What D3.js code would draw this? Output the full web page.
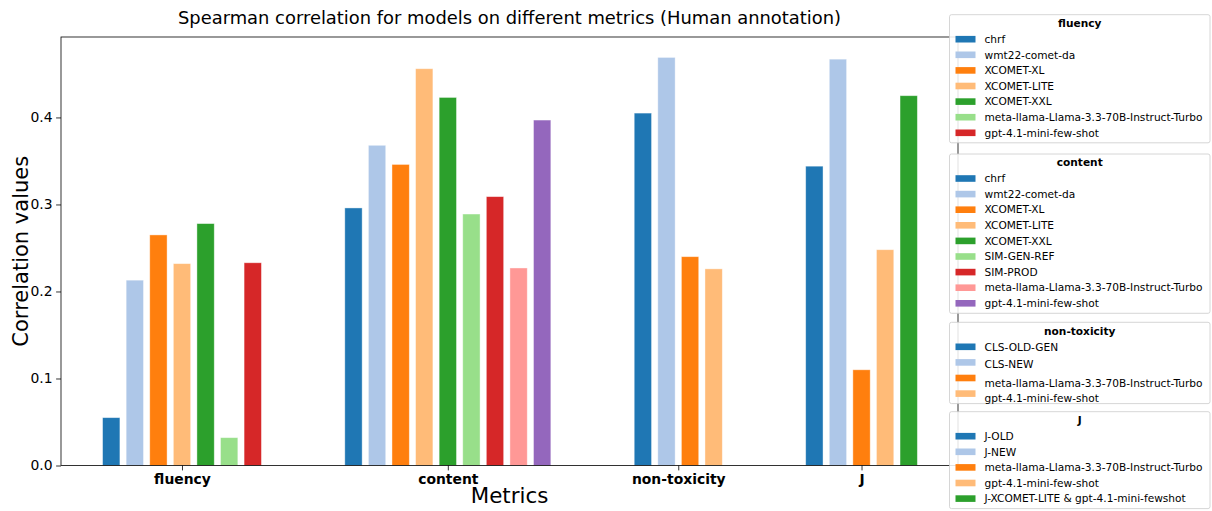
<!DOCTYPE html>
<html>
<head>
<meta charset="utf-8">
<script src="https://cdn.jsdelivr.net/npm/d3@7/dist/d3.min.js"></script>
<style>
  html, body { margin: 0; padding: 0; background: #fff; }
  svg { display: block; font-family: "DejaVu Sans", sans-serif; }
</style>
</head>
<body>
<svg id="chart" width="1212" height="511"></svg>
<script>
// ---------------- DATA ----------------
const categories = ["fluency", "content", "non-toxicity", "J"];

const fluencyModels = ["chrf", "wmt22-comet-da", "XCOMET-XL", "XCOMET-LITE", "XCOMET-XXL",
  "meta-llama-Llama-3.3-70B-Instruct-Turbo", "gpt-4.1-mini-few-shot"];
const fluencyValues = [0.055, 0.213, 0.265, 0.232, 0.278, 0.032, 0.233];

const contentModels = ["chrf", "wmt22-comet-da", "XCOMET-XL", "XCOMET-LITE", "XCOMET-XXL",
  "SIM-GEN-REF", "SIM-PROD", "meta-llama-Llama-3.3-70B-Instruct-Turbo", "gpt-4.1-mini-few-shot"];
const contentValues = [0.296, 0.368, 0.346, 0.456, 0.423, 0.289, 0.309, 0.227, 0.397];

const nonToxicityModels = ["CLS-OLD-GEN", "CLS-NEW", "meta-llama-Llama-3.3-70B-Instruct-Turbo",
  "gpt-4.1-mini-few-shot"];
const nonToxicityValues = [0.405, 0.469, 0.240, 0.226];

const jModels = ["J-OLD", "J-NEW", "meta-llama-Llama-3.3-70B-Instruct-Turbo", "gpt-4.1-mini-few-shot",
  "J-XCOMET-LITE & gpt-4.1-mini-fewshot"];
const jValues = [0.344, 0.467, 0.110, 0.248, 0.425];

const yTicks = [0.0, 0.1, 0.2, 0.3, 0.4];

const palette = ["#1f77b4", "#aec7e8", "#ff7f0e", "#ffbb78", "#2ca02c",
  "#98df8a", "#d62728", "#ff9896", "#9467bd"];

const titleText = "Spearman correlation for models on different metrics (Human annotation)";
const xLabelText = "Metrics";
const yLabelText = "Correlation values";

// ---------------- BUILD ----------------
const groups = [
  { name: categories[0], models: fluencyModels, values: fluencyValues },
  { name: categories[1], models: contentModels, values: contentValues },
  { name: categories[2], models: nonToxicityModels, values: nonToxicityValues },
  { name: categories[3], models: jModels, values: jValues }
];

// slot positions (in bar-step units)
const groupGap = 4.27;
let cursor = 0;
const bars = [];
groups.forEach((g, gi) => {
  if (gi > 0) cursor += groupGap;
  g.start = cursor;
  g.values.forEach((v, i) => {
    bars.push({ group: g.name, model: g.models[i], value: v, slot: cursor, color: palette[i] });
    if (i < g.values.length - 1) cursor += 1;
  });
  g.end = cursor;
  g.center = (g.start + g.end) / 2;
});

const svg = d3.select("#chart");
const L = 61, R = 958, T = 37, B = 465.5;

const x = d3.scaleLinear()
  .domain([groups[0].start - 2.13, groups[groups.length - 1].end + 2.09])
  .range([L, R]);
const yMax = d3.max(bars, d => d.value) * 1.05;
const y = d3.scaleLinear().domain([0, yMax]).range([B, T]);

const barW = x(0.735) - x(0);

// bars
svg.append("g").selectAll("rect")
  .data(bars)
  .join("rect")
  .attr("x", d => x(d.slot) - barW / 2)
  .attr("y", d => y(d.value))
  .attr("width", barW)
  .attr("height", d => y(0) - y(d.value))
  .attr("fill", d => d.color)
  .attr("stroke", "#ffffff")
  .attr("stroke-opacity", 0.5)
  .attr("stroke-width", 0.8);

// axes
const yAxis = d3.axisLeft(y).tickValues(yTicks).tickFormat(d3.format(".1f")).tickSizeOuter(0).tickSize(4.9).tickPadding(3.5);
const gy = svg.append("g").attr("transform", `translate(${L},0)`).call(yAxis);
gy.select(".domain").remove();
gy.selectAll("line").attr("stroke", "#000").attr("stroke-width", 0.8);
gy.selectAll("text").attr("font-size", "13.9px").attr("fill", "#000")
  .attr("font-family", "DejaVu Sans, sans-serif");

const xAxis = d3.axisBottom(x).tickValues(groups.map(g => g.center))
  .tickFormat((d, i) => groups[i].name).tickSizeOuter(0).tickSize(4.9).tickPadding(3.5);
const gx = svg.append("g").attr("transform", `translate(0,${B})`).call(xAxis);
gx.select(".domain").remove();
gx.selectAll("line").attr("stroke", "#000").attr("stroke-width", 0.8);
gx.selectAll("text").attr("font-size", "13.9px").attr("font-weight", "bold").attr("fill", "#000")
  .attr("font-family", "DejaVu Sans, sans-serif");

// frame
svg.append("rect")
  .attr("x", L).attr("y", T)
  .attr("width", R - L).attr("height", B - T)
  .attr("fill", "none").attr("stroke", "#000").attr("stroke-width", 0.8);

// title & labels
svg.append("text").attr("x", (L + R) / 2).attr("y", 18).attr("dy", "0.35em")
  .attr("text-anchor", "middle").attr("font-size", "17.9px").attr("fill", "#000").text(titleText);
svg.append("text").attr("x", (L + R) / 2).attr("y", 496).attr("dy", "0.35em")
  .attr("text-anchor", "middle").attr("font-size", "21.4px").attr("fill", "#000").text(xLabelText);
svg.append("text")
  .attr("transform", `translate(21,${(T + B) / 2}) rotate(-90)`)
  .attr("dy", "0.35em")
  .attr("text-anchor", "middle").attr("font-size", "21px").attr("fill", "#000").text(yLabelText);

// legends
const legendTops = [14.7, 154, 322.3, 411.7];
const textShift = [[], [], [0, 1.6, 5.5, 5], []];
const lx = 949.5, lw = 260.5;
const step = 15.6, firstOff = 24.5, titleOff = 8.5, padB = 10;
groups.forEach((g, gi) => {
  const top = legendTops[gi];
  const n = g.models.length;
  const h = firstOff + (n - 1) * step + padB;
  const lg = svg.append("g");
  lg.append("rect").attr("x", lx).attr("y", top).attr("width", lw).attr("height", h)
    .attr("rx", 2).attr("fill", "#fff").attr("fill-opacity", 0.85)
    .attr("stroke", "#cccccc").attr("stroke-width", 0.8);
  lg.append("text").attr("x", lx + lw / 2).attr("y", top + titleOff).attr("dy", "0.35em")
    .attr("text-anchor", "middle").attr("font-size", "10.6px").attr("font-weight", "bold")
    .attr("fill", "#000").text(g.name);
  g.models.forEach((m, i) => {
    const cy = top + firstOff + i * step;
    lg.append("rect").attr("x", 955.5).attr("y", cy - 3.3).attr("width", 20).attr("height", 6.6)
      .attr("fill", palette[i]);
    const sh = (textShift[gi][i] || 0);
    lg.append("text").attr("x", 984.5).attr("y", cy + sh).attr("dy", "0.35em")
      .attr("font-size", "10.6px").attr("fill", "#000").text(m);
  });
});
</script>
</body>
</html>
